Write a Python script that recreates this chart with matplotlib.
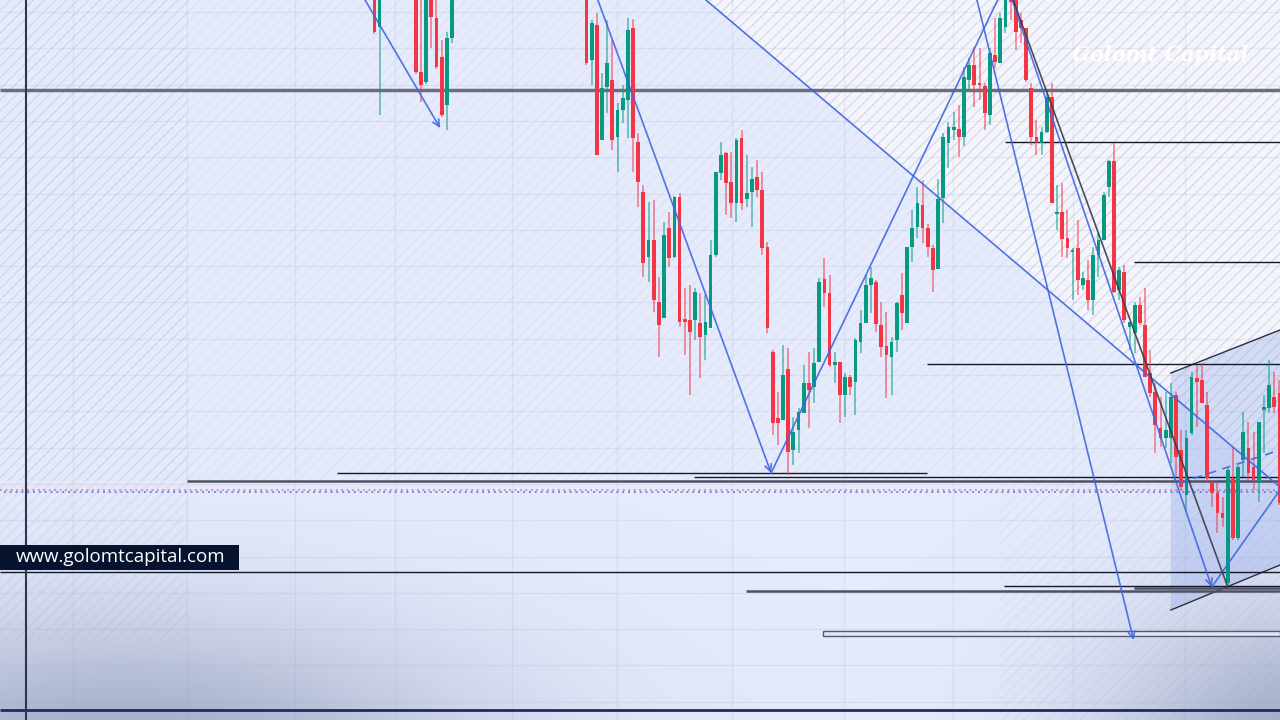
import numpy as np
import matplotlib
matplotlib.use("agg")
import matplotlib.pyplot as plt
from matplotlib.patches import Polygon, Rectangle

# Price levels on a screen-style scale
# (small value = high price), so the y axis gets inverted further down.
# x is the bar number counted from the first visible candle.

BAR_IDX = [0, 1, 8, 9, 10, 11, 12, 13, 14, 15] + list(range(41, 176))

OPEN = [-20, 27, -20, 72, 82, -5, 18, 57, 105, 38,
        -20, 60, 25, 140, 87, 80, 137, 110, 100, 28,
        142, 192, 257, 240, 302, 318, 228, 257, 197, 319,
        320, 320, 323, 335, 328, 255, 173, 153, 182, 203,
        138, 199, 192, 177, 190, 247, 352, 418, 420, 369,
        450, 430, 413, 383, 387, 362, 279, 293, 365, 362,
        395, 377, 382, 342, 323, 285, 282, 325, 346, 357,
        340, 295, 323, 247, 227, 205, 228, 248, 269, 198,
        143, 130, 129, 137, 80, 65, 83, 86, 115, 55,
        63, 27, -3, -5, 20, 28, 88, 137, 143, 132,
        97, 213, 212, 238, 251, 248, 285, 280, 300, 255,
        240, 187, 161, 290, 272, 327, 333, 305, 325, 373,
        392, 428, 438, 438, 395, 450, 495, 433, 378, 380,
        405, 483, 493, 513, 583, 478, 538, 460, 448, 467,
        483, 410, 408, 397, 393]

HIGH = [-30, -30, -30, -10, -30, -15, -5, 40, 32, -30,
        -30, 20, 13, 73, 20, 40, 103, 85, 18, 19,
        133, 185, 202, 200, 277, 222, 212, 196, 193, 288,
        285, 288, 293, 295, 240, 172, 142, 152, 152, 138,
        130, 155, 167, 160, 172, 242, 350, 392, 345, 348,
        417, 408, 365, 352, 348, 278, 258, 275, 352, 362,
        373, 375, 338, 310, 275, 267, 280, 302, 312, 337,
        302, 273, 247, 210, 187, 180, 224, 245, 179, 133,
        122, 112, 105, 67, 58, 47, 48, 83, 48, 18,
        13, -15, -10, -10, 13, 28, 83, 120, 127, 93,
        83, 185, 183, 210, 248, 220, 272, 260, 247, 233,
        192, 160, 143, 267, 265, 322, 302, 297, 288, 350,
        383, 397, 392, 383, 392, 430, 430, 372, 365, 363,
        392, 480, 483, 497, 467, 447, 465, 412, 422, 432,
        422, 395, 360, 372, 380]

LOW = [34, 115, 74, 102, 84, 48, 69, 117, 130, 43,
       65, 85, 155, 140, 113, 150, 172, 123, 138, 172,
       207, 277, 282, 312, 357, 318, 267, 258, 327, 355,
       395, 340, 378, 360, 328, 257, 180, 215, 218, 222,
       210, 207, 227, 197, 255, 333, 435, 445, 420, 475,
       465, 453, 413, 428, 403, 362, 307, 367, 383, 423,
       417, 395, 415, 353, 323, 313, 332, 357, 398, 395,
       352, 330, 323, 262, 238, 243, 257, 292, 269, 223,
       168, 140, 157, 146, 90, 107, 100, 130, 125, 68,
       63, 33, 20, 50, 43, 82, 145, 155, 155, 133,
       203, 230, 257, 258, 300, 295, 290, 310, 315, 277,
       240, 197, 293, 300, 323, 350, 353, 325, 377, 397,
       453, 447, 448, 463, 477, 490, 512, 435, 427, 403,
       483, 507, 533, 527, 585, 540, 540, 477, 480, 490,
       502, 453, 413, 413, 505]

CLOSE = [32, -20, 72, 85, -20, 17, 67, 115, 38, -20,
         63, 23, 155, 88, 63, 140, 110, 98, 30, 138,
         182, 263, 240, 300, 325, 235, 258, 197, 322, 322,
         332, 292, 337, 322, 255, 172, 155, 183, 203, 140,
         203, 193, 179, 190, 248, 328, 423, 423, 375, 452,
         432, 412, 383, 390, 363, 282, 293, 365, 362, 395,
         377, 387, 340, 323, 285, 278, 324, 347, 355, 342,
         303, 313, 247, 228, 203, 228, 247, 270, 199, 137,
         127, 127, 137, 77, 65, 85, 85, 113, 53, 62,
         18, -5, 2, 32, 28, 80, 137, 143, 132, 97,
         203, 212, 239, 248, 250, 280, 278, 300, 255, 240,
         195, 161, 292, 270, 320, 322, 305, 323, 377, 393,
         425, 438, 430, 397, 457, 487, 438, 377, 382, 403,
         478, 493, 513, 518, 470, 538, 467, 432, 473, 480,
         422, 407, 385, 407, 503]

# horizontal levels: price, first bar, line colour, width
LEVEL_Y = [90, 142, 262, 364, 473, 477, 481, 572, 586, 588, 591, 710]
LEVEL_FROM = [-72.4, 121.9, 146.8, 106.8, -7.2, 61.8, -36.2, -72.4, 121.7, 146.8, 71.8, -72.4]
LEVEL_TO = [175.1, 175.1, 175.1, 175.1, 106.8, 175.1, 175.1, 175.1, 175.1, 175.1, 175.1, 175.1]
LEVEL_COLOR = ["#6a6e80", "#15182a", "#15182a", "#15182a", "#15182a", "#15182a",
               "#4c5062", "#15182a", "#15182a", "#4c5062", "#4c5062", "#1d2c5e"]
LEVEL_LW = [2.5, 1, 1, 1, 1, 1, 1.8, 1, 1, 1.8, 1.8, 2]

# drawn trend lines: start bar, start price, end bar, end price, arrow
TREND_START = [(-1.8, 0), (43.2, 0), (76.7, 473), (64.1, 0), (116.5, 0), (123.3, 0), (161.9, 587)]
TREND_END = [(12.7, 128), (76.7, 473), (120.5, 0), (175.1, 487), (146.8, 640), (161.9, 587), (175.1, 490)]
TREND_ARROW = [True, True, False, False, True, True, False]

TIME_GRID = [-58.2, -36.2, -15.3, 4.0, 26.6, 46.9, 69.1, 90.8, 111.8, 135.1, 156.7]
PRICE_STEP = 36.3

RED = "#f23645"
GREEN = "#089981"
BLUE = "#3f66e0"
BG = "#e6ebfc"
GRID = (0.55, 0.6, 0.75, 0.14)
X_MIN, X_MAX = -72.4, 175.1

fig = plt.figure(figsize=(12.8, 7.2), dpi=100, facecolor=BG)
ax = fig.add_axes([0, 0, 1, 1])
ax.set_xlim(X_MIN, X_MAX)
ax.set_ylim(720, 0)
ax.axis("off")

# soft dark corners at the bottom
gx, gy = np.meshgrid(np.linspace(0, 1280, 256), np.linspace(0, 720, 144))
shade = 0.62 * np.exp(-(((gx - 120) / 360) ** 2 + ((gy - 770) / 150) ** 2))
shade += 0.65 * np.exp(-(((gx - 1320) / 210) ** 2 + ((gy - 770) / 160) ** 2))
img = np.zeros(gx.shape + (4,))
img[..., 0], img[..., 1], img[..., 2] = 0.46, 0.51, 0.65
img[..., 3] = np.clip(shade, 0, 0.65)
ax.imshow(img, extent=[X_MIN, X_MAX, 720, 0], aspect="auto", interpolation="bilinear", zorder=0.5)

# pale zone above the long diagonal
ax.add_patch(Polygon([(64.1, 0), (X_MAX, 0), (X_MAX, 487)], closed=True,
                     facecolor="#f6f7fc", edgecolor="none", alpha=0.9, zorder=1))

# diagonal hatching
plt.rcParams["hatch.linewidth"] = 0.9
hatch_areas = [
    ([(X_MIN, 0), (X_MAX, 0), (X_MAX, 480), (X_MIN, 480)], (0.55, 0.58, 0.72, 0.10)),
    ([(X_MIN, 0), (-36.2, 0), (-36.2, 640), (X_MIN, 640)], (0.55, 0.58, 0.72, 0.14)),
    ([(64.1, 0), (X_MAX, 0), (X_MAX, 487)], (0.72, 0.74, 0.82, 0.35)),
    ([(121.0, 480), (X_MAX, 480), (X_MAX, 720), (121.0, 720)], (0.55, 0.58, 0.72, 0.10)),
]
for verts, hc in hatch_areas:
    ax.add_patch(Polygon(verts, closed=True, fill=False, hatch="///", edgecolor=hc,
                         linewidth=0, zorder=1.5))

# grid
for gxv in TIME_GRID:
    ax.axvline(gxv, color=GRID, lw=1, zorder=2)
for gyv in np.arange(12, 720, PRICE_STEP):
    ax.axhline(gyv, color=GRID, lw=1, zorder=2)

# shaded channel on the right
ax.add_patch(Polygon([(154.0, 373), (X_MAX, 330), (X_MAX, 565), (154.0, 610)], closed=True,
                     facecolor="#7f9ce8", edgecolor="none", alpha=0.28, zorder=2.5))
ax.plot([154.0, X_MAX], [373, 330], color="#2b2f3c", lw=1, zorder=3)
ax.plot([154.0, X_MAX], [610, 565], color="#2b2f3c", lw=1, zorder=3)

# thin box near the bottom
ax.add_patch(Rectangle((86.7, 631), X_MAX - 86.7, 5, facecolor="#e2e6f4",
                       edgecolor="#555a6a", lw=1, zorder=3))

# horizontal levels
for y, x0, x1, col, lw in zip(LEVEL_Y, LEVEL_FROM, LEVEL_TO, LEVEL_COLOR, LEVEL_LW):
    ax.hlines(y, x0, x1, colors=col, lw=lw, zorder=3)
ax.axvline(-67.3, color="#2d3550", lw=1.5, zorder=3)

# current price line (dotted red / blue)
ax.axhline(490, color=RED, lw=1.3, ls=(0, (1, 2)), alpha=0.6, zorder=3)
ax.axhline(492, color="#4f7cf0", lw=1.4, ls=(1, (1, 2)), alpha=0.85, zorder=3)

# candles
x = np.array(BAR_IDX, dtype=float)
o, h, l, c = (np.array(v, dtype=float) for v in (OPEN, HIGH, LOW, CLOSE))
rising = c < o
colors = np.where(rising, GREEN, RED)
ax.vlines(x, h, l, colors=colors, lw=1.2, alpha=0.6, zorder=4)
ax.bar(x, np.maximum(np.abs(o - c), 1.5), bottom=np.minimum(o, c), width=0.72,
       color=colors, linewidth=0, zorder=4.2)

# trend lines and arrows
for (x0, y0), (x1, y1), arrow in zip(TREND_START, TREND_END, TREND_ARROW):
    if arrow:
        ax.annotate("", xy=(x1, y1), xytext=(x0, y0),
                    arrowprops=dict(arrowstyle="->", color=BLUE, lw=1.2, alpha=0.9,
                                    shrinkA=0, shrinkB=0, mutation_scale=12), zorder=5)
    else:
        ax.plot([x0, x1], [y0, y1], color=BLUE, lw=1.2, alpha=0.9, zorder=5)
ax.plot([155.7, X_MAX], [483, 450], color=BLUE, lw=1.2, ls=(0, (5, 4)), alpha=0.9, zorder=5)
ax.plot([123.5, 165.0], [0, 587], color="#3a3d48", lw=1.2, alpha=0.9, zorder=5)

# watermark
ax.text(151.9, 55, "Golomt Capital", color="white", fontsize=15, family="DejaVu Serif",
        style="italic", fontweight="bold", ha="center", va="center", alpha=0.95, zorder=6)

# website label
ax.add_patch(Rectangle((0, 1 - 570 / 720), 239 / 1280, 25 / 720, transform=ax.transAxes,
                       facecolor="#06122e", edgecolor="none", zorder=6))
ax.text(16 / 1280, 1 - 557.5 / 720, "www.golomtcapital.com", transform=ax.transAxes,
        color="white", fontsize=13.5, family="Open Sans", va="center", ha="left", zorder=7)

fig.savefig("out.png", dpi=100, facecolor=BG)
